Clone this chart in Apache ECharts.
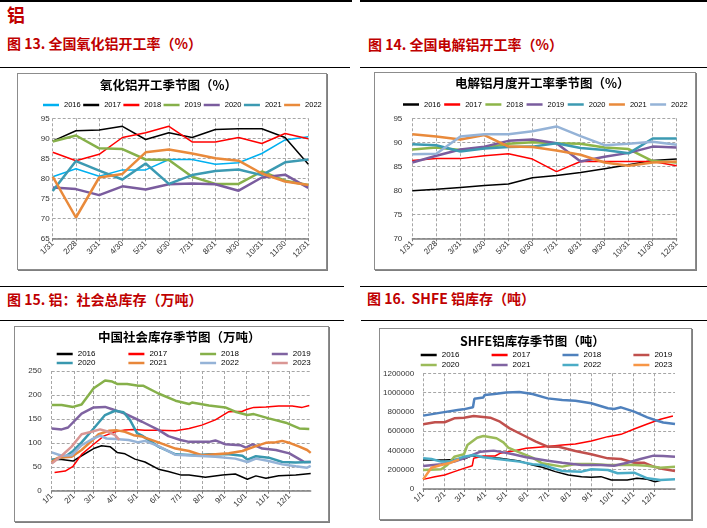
<!DOCTYPE html>
<html>
<head>
    <meta charset="utf-8">
    <title>铝</title>
    <script src="https://cdn.jsdelivr.net/npm/echarts@6/dist/echarts.min.js"></script>
    <style>
        body { margin: 0; width: 707px; height: 528px; background: #fff; position: relative; overflow: hidden;
               font-family: "Noto Sans CJK SC", "Liberation Sans", sans-serif; }
        .rule { position: absolute; height: 1px; background: #000; }
        .head { position: absolute; color: #c00000; font-weight: bold; font-size: 14px; line-height: 1; white-space: pre; }
        .box { position: absolute; box-sizing: border-box; border: 1px solid #8c8c8c; box-shadow: 1px 1px 0 #7f7f7f; }
    </style>
</head>
<body>
<div class="rule" style="left:0;top:0;width:352px;height:2px"></div>
<div class="rule" style="left:360px;top:0;width:347px;height:2px"></div>
<div class="head" style="left:7px;top:5px;font-size:18px">铝</div>
<div class="head" style="left:7px;top:36px">图 13. 全国氧化铝开工率（%）</div>
<div class="head" style="left:368px;top:37px">图 14. 全国电解铝开工率（%）</div>
<div class="rule" style="left:0;top:67px;width:350px"></div>
<div class="rule" style="left:360px;top:67px;width:347px"></div>
<div class="box" id="chart-alumina" style="left:17px;top:73px;width:310px;height:197px"></div>
<div class="box" id="chart-smelter" style="left:374px;top:72px;width:322px;height:198px"></div>

<div class="rule" style="left:0;top:286px;width:344px"></div>
<div class="rule" style="left:360px;top:286px;width:347px"></div>
<div class="head" style="left:7px;top:292px">图 15. 铝：社会总库存（万吨）</div>
<div class="head" style="left:367px;top:291px">图 16.  SHFE 铝库存（吨）</div>
<div class="rule" style="left:0;top:320px;width:344px"></div>
<div class="rule" style="left:361px;top:320px;width:346px"></div>
<div class="box" id="chart-social" style="left:14px;top:326px;width:315px;height:196px"></div>
<div class="box" id="chart-shfe" style="left:379px;top:328px;width:313px;height:192px"></div>

<script>
    // 月末日期（开工率）
    var monthEnds = ['1/31', '2/28', '3/31', '4/30', '5/31', '6/30', '7/31', '8/31', '9/30', '10/31', '11/30', '12/31'];
    var years7 = ['2016', '2017', '2018', '2019', '2020', '2021', '2022'];
    var years8 = ['2016', '2017', '2018', '2019', '2020', '2021', '2022', '2023'];

    // 氧化铝开工率 %
    var alumina2016 = [80.4, 82.4, 80.5, 82.1, 82.1, 84.7, 84.7, 83.5, 83.9, 86.2, 89.6, 90.4];
    var alumina2017 = [89.3, 91.9, 92.1, 93.0, 89.7, 91.4, 90.2, 92.2, 92.4, 92.4, 90.2, 83.5];
    var alumina2018 = [86.5, 84.4, 86.0, 90.2, 91.4, 93.0, 89.1, 89.1, 90.2, 88.7, 91.2, 89.9];
    var alumina2019 = [89.2, 90.7, 87.5, 87.3, 84.7, 84.6, 80.4, 78.6, 78.6, 81.7, 79.4, 78.3];
    var alumina2020 = [77.7, 77.3, 75.8, 78.0, 77.2, 78.5, 78.7, 78.5, 76.9, 80.2, 80.9, 77.6];
    var alumina2021 = [76.8, 84.3, 81.9, 79.7, 83.7, 78.6, 80.8, 81.8, 82.2, 80.8, 84.0, 84.7];
    var alumina2022 = [80.4, 70.2, 80.2, 81.1, 86.5, 87.2, 86.2, 85.0, 84.4, 81.2, 79.2, 78.3];

    // 电解铝开工率 %
    var smelter2016 = [79.9, 80.2, 80.6, 81.0, 81.3, 82.6, 83.1, 83.7, 84.5, 85.3, 86.2, 86.5];
    var smelter2017 = [86.2, 86.6, 86.6, 87.2, 87.6, 86.5, 83.9, 86.0, 86.0, 86.0, 86.0, 85.1];
    var smelter2018 = [88.5, 88.9, 88.4, 88.8, 89.7, 90.0, 89.8, 89.7, 88.9, 88.6, 86.1, 85.8];
    var smelter2019 = [85.8, 87.2, 88.5, 89.1, 90.3, 90.6, 89.8, 86.0, 87.0, 87.8, 89.1, 88.9];
    var smelter2020 = [89.6, 89.4, 88.1, 88.7, 89.0, 89.1, 89.8, 88.8, 88.4, 87.7, 90.8, 90.8];
    var smelter2021 = [91.7, 91.2, 90.6, 91.5, 89.1, 89.0, 88.3, 87.4, 85.8, 85.1, 85.8, 86.0];
    var smelter2022 = [87.5, 87.6, 91.2, 91.7, 91.7, 92.3, 93.3, 91.3, 89.4, 89.7, 90.1, 89.5];

    // 社会库存 万吨, [第几天(0=1/1), 数值]
    var social2016 = [[0, 65], [14, 65], [30, 62], [42, 73], [59, 88], [70, 94], [82, 92], [92, 80], [103, 77], [117, 66], [131, 60], [150, 45], [164, 40], [181, 33], [193, 33], [216, 28], [240, 33], [258, 35], [275, 24], [287, 31], [301, 26], [319, 31], [343, 33], [364, 36]];
    var social2017 = [[4, 38], [19, 41], [30, 51], [42, 76], [59, 97], [73, 114], [89, 123], [103, 127], [115, 128], [131, 126], [150, 126], [174, 125], [193, 130], [211, 137], [230, 148], [249, 165], [268, 166], [275, 170], [284, 174], [301, 175], [319, 177], [338, 177], [352, 174], [362, 178]];
    var social2018 = [[0, 179], [14, 179], [30, 175], [42, 180], [59, 214], [75, 230], [85, 228], [92, 223], [106, 223], [122, 219], [129, 219], [150, 203], [174, 188], [193, 181], [197, 184], [221, 178], [244, 174], [258, 165], [275, 158], [284, 160], [305, 151], [329, 142], [348, 130], [362, 129]];
    var social2019 = [[0, 130], [14, 128], [23, 132], [42, 161], [59, 174], [75, 175], [85, 170], [103, 161], [127, 144], [150, 127], [164, 114], [181, 106], [193, 102], [221, 102], [230, 105], [244, 97], [265, 95], [273, 90], [282, 97], [296, 88], [315, 85], [334, 78], [348, 66], [355, 60], [364, 60]];
    var social2020 = [[0, 64], [19, 71], [30, 83], [42, 101], [59, 130], [75, 158], [89, 167], [101, 164], [110, 148], [120, 120], [127, 115], [150, 92], [174, 76], [202, 74], [221, 76], [249, 76], [268, 73], [275, 65], [287, 72], [305, 69], [324, 60], [343, 59], [364, 60]];
    var social2021 = [[0, 60], [9, 69], [28, 71], [42, 85], [59, 108], [66, 118], [80, 125], [92, 126], [103, 123], [115, 116], [127, 113], [150, 101], [174, 88], [193, 83], [211, 74], [230, 76], [249, 78], [268, 83], [287, 93], [301, 100], [315, 101], [324, 104], [336, 99], [348, 92], [359, 85], [364, 79]];
    var social2022 = [[0, 80], [14, 73], [28, 74], [42, 95], [56, 107], [68, 115], [77, 109], [89, 108], [108, 106], [122, 101], [131, 104], [150, 93], [174, 75], [202, 73], [230, 71], [258, 67], [275, 60], [287, 67], [305, 62], [324, 55], [343, 51], [359, 48], [364, 52]];
    var social2023 = [[0, 57], [14, 73], [28, 92], [42, 118], [56, 123], [68, 128], [80, 123], [89, 116], [95, 106]];

    // SHFE 铝库存 吨, [第几天, 数值]
    var shfe2016 = [[0, 301000], [31, 301000], [59, 311000], [71, 346000], [83, 335000], [111, 318000], [139, 290000], [158, 249000], [172, 225000], [191, 180000], [210, 145000], [229, 128000], [243, 121000], [257, 128000], [272, 93000], [295, 93000], [309, 111000], [324, 100000], [335, 76000], [345, 93000], [350, 95000]];
    var shfe2017 = [[0, 100000], [17, 128000], [31, 145000], [45, 180000], [59, 214000], [71, 242000], [73, 318000], [87, 342000], [104, 342000], [111, 370000], [130, 394000], [149, 422000], [180, 442000], [201, 456000], [220, 467000], [243, 498000], [267, 543000], [286, 567000], [305, 622000], [324, 674000], [343, 723000], [361, 757000]];
    var shfe2018 = [[0, 761000], [26, 792000], [50, 820000], [58, 826000], [59, 845000], [72, 848000], [74, 935000], [87, 950000], [89, 975000], [103, 985000], [105, 1005000], [120, 1000000], [139, 1005000], [158, 985000], [180, 940000], [201, 923000], [220, 916000], [243, 889000], [267, 837000], [276, 830000], [286, 847000], [305, 802000], [324, 743000], [335, 716000], [347, 690000], [364, 674000]];
    var shfe2019 = [[0, 671000], [17, 692000], [31, 692000], [45, 733000], [59, 740000], [73, 757000], [97, 740000], [111, 698000], [125, 629000], [144, 560000], [163, 491000], [180, 439000], [196, 439000], [220, 394000], [243, 360000], [267, 318000], [286, 311000], [305, 273000], [319, 273000], [333, 232000], [347, 207000], [364, 187000]];
    var shfe2020 = [[0, 197000], [26, 204000], [35, 249000], [45, 335000], [59, 360000], [64, 456000], [78, 532000], [87, 550000], [106, 526000], [116, 484000], [123, 429000], [139, 380000], [158, 325000], [172, 266000], [201, 232000], [220, 259000], [243, 259000], [267, 249000], [305, 249000], [324, 242000], [343, 221000], [364, 230000]];
    var shfe2021 = [[0, 239000], [26, 256000], [45, 284000], [59, 318000], [83, 387000], [102, 398000], [116, 380000], [130, 360000], [149, 329000], [180, 294000], [201, 273000], [229, 249000], [257, 249000], [276, 242000], [295, 273000], [314, 311000], [333, 346000], [347, 342000], [364, 335000]];
    var shfe2022 = [[0, 318000], [12, 311000], [26, 284000], [40, 284000], [59, 335000], [73, 353000], [87, 329000], [111, 308000], [139, 284000], [158, 256000], [172, 249000], [201, 187000], [229, 180000], [243, 204000], [267, 197000], [281, 163000], [305, 169000], [324, 111000], [343, 93000], [364, 100000]];
    var shfe2023 = [[0, 100000], [12, 221000], [26, 249000], [40, 273000], [52, 308000]];

    // 日期轴 1/1 ... 12/31
    var daysInMonth = [31, 28, 31, 30, 31, 30, 31, 31, 30, 31, 30, 31];
    var dayLabels = [];
    daysInMonth.forEach(function (n, m) {
        for (var d = 1; d <= n; d++) dayLabels.push((m + 1) + '/' + d);
    });
    function monthStart(i, v) { return /\/1$/.test(v); }

    var dash = {show: true, lineStyle: {type: [3, 2], color: '#a6a6a6', width: 1}};
    var small = {fontSize: 8, color: '#333', fontFamily: 'Liberation Sans'};

    function makeSeries(names, datas, colors, widths) {
        return names.map(function (n, i) {
            return {
                name: n, type: 'line', data: datas[i], symbol: 'none',
                lineStyle: {color: colors[i], width: widths[i]}, itemStyle: {color: colors[i]}
            };
        });
    }

    function makeLegend(names, left, top, gap, size) {
        return {
            data: names, left: left, top: top, width: 300, icon: 'rect', itemWidth: 16, itemHeight: 2.5,
            itemGap: gap, padding: 0, textStyle: {fontSize: size, color: '#000', fontFamily: 'Liberation Sans'}
        };
    }

    function makeOption(cfg) {
        return {
            animation: false,
            title: {
                text: cfg.title, left: cfg.titleLeft, top: cfg.titleTop, padding: 0,
                textStyle: {fontSize: 12.5, fontWeight: 'bold', color: '#000', fontFamily: 'Noto Sans CJK SC'}
            },
            legend: cfg.legend,
            grid: cfg.grid,
            xAxis: {
                type: 'category', boundaryGap: false, data: cfg.xData,
                axisLine: {lineStyle: {color: '#7f7f7f', width: 1.5}},
                axisTick: {show: true, length: 3, interval: cfg.xInterval, lineStyle: {color: '#7f7f7f'}},
                axisLabel: Object.assign({rotate: 45, margin: 4, interval: cfg.xInterval}, small),
                splitLine: Object.assign({interval: cfg.xInterval}, dash)
            },
            yAxis: {
                type: 'value', min: cfg.yMin, max: cfg.yMax, interval: cfg.yStep,
                axisLine: {show: false}, axisTick: {show: false},
                axisLabel: Object.assign({margin: cfg.yMargin, formatter: function (v) { return String(v); }}, small),
                splitLine: dash
            },
            series: cfg.series
        };
    }

    var thin = 1.5, thick = 2.5;

    var alumina = echarts.init(document.getElementById('chart-alumina'));
    alumina.setOption(makeOption({
        title: '氧化铝开工季节图（%）', titleLeft: 82, titleTop: 5,
        legend: makeLegend(years7, 25, 27, 2.5, 7.5),
        grid: {left: 34.7, top: 44.3, width: 255.6, height: 120},
        xData: monthEnds, xInterval: 0,
        yMin: 65, yMax: 95, yStep: 5, yMargin: 3,
        series: makeSeries(years7,
            [alumina2016, alumina2017, alumina2018, alumina2019, alumina2020, alumina2021, alumina2022],
            ['#00b0f0', '#000000', '#ff0000', '#86b04a', '#7a5c9e', '#3c9ab2', '#e98a3b'],
            [thin, thin, thin, thick, thick, thick, thick])
    }));

    var smelter = echarts.init(document.getElementById('chart-smelter'));
    smelter.setOption(makeOption({
        title: '电解铝月度开工率季节图（%）', titleLeft: 80, titleTop: 4,
        legend: makeLegend(years7, 28, 27.5, 3.5, 7.5),
        grid: {left: 37.3, top: 45.3, width: 264.4, height: 120},
        xData: monthEnds, xInterval: 0,
        yMin: 70, yMax: 95, yStep: 5, yMargin: 10,
        series: makeSeries(years7,
            [smelter2016, smelter2017, smelter2018, smelter2019, smelter2020, smelter2021, smelter2022],
            ['#000000', '#ff0000', '#8db548', '#7a5c9e', '#3c9ab2', '#e98a3b', '#95b3d7'],
            [thin, thin, thick, thick, thick, thick, thick])
    }));

    var social = echarts.init(document.getElementById('chart-social'));
    social.setOption(makeOption({
        title: '中国社会库存季节图（万吨）', titleLeft: 83, titleTop: 4,
        legend: [makeLegend(years8.slice(0, 4), 41.7, 23, 32.9, 8), makeLegend(years8.slice(4), 41.7, 32, 32.9, 8)],
        grid: {left: 36.7, top: 44, width: 259, height: 119.7},
        xData: dayLabels, xInterval: monthStart,
        yMin: 0, yMax: 250, yStep: 50, yMargin: 10,
        series: makeSeries(years8,
            [social2016, social2017, social2018, social2019, social2020, social2021, social2022, social2023],
            ['#000000', '#ff0000', '#86b04a', '#7f63a1', '#3998af', '#e8873a', '#95b3d7', '#da9694'],
            [thin, thin, thick, thick, thick, thick, thick, thick])
    }));

    var shfe = echarts.init(document.getElementById('chart-shfe'));
    shfe.setOption(makeOption({
        title: 'SHFE铝库存季节图（吨）', titleLeft: 80, titleTop: 6,
        legend: [makeLegend(years8.slice(0, 4), 40.7, 22, 32.1, 8), makeLegend(years8.slice(4), 40.7, 32, 32.1, 8)],
        grid: {left: 38.3, top: 44.3, width: 256.7, height: 115.7},
        xData: dayLabels, xInterval: monthStart,
        yMin: 0, yMax: 1200000, yStep: 200000, yMargin: 9,
        series: makeSeries(years8,
            [shfe2016, shfe2017, shfe2018, shfe2019, shfe2020, shfe2021, shfe2022, shfe2023],
            ['#000000', '#ff0000', '#4f81bd', '#c0504d', '#9bbb59', '#8064a2', '#4bacc6', '#f79646'],
            [thin, thin, thick, thick, thick, thick, thick, thick])
    }));
</script>
</body>
</html>
